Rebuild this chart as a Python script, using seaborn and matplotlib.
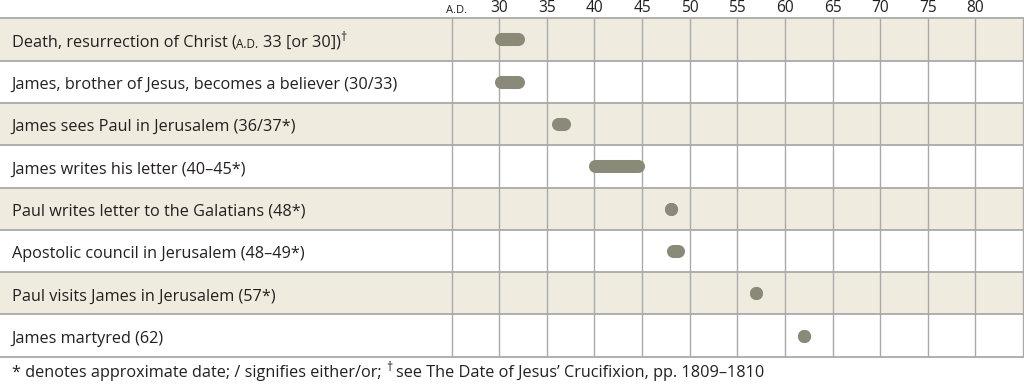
import re
import matplotlib
matplotlib.use("Agg")
import matplotlib.pyplot as plt
import seaborn as sns
import pandas as pd

# events, one row each (top to bottom)
events = [
    "Death, resurrection of Christ (A.D. 33 [or 30])†",
    "James, brother of Jesus, becomes a believer (30/33)",
    "James sees Paul in Jerusalem (36/37*)",
    "James writes his letter (40–45*)",
    "Paul writes letter to the Galatians (48*)",
    "Apostolic council in Jerusalem (48–49*)",
    "Paul visits James in Jerusalem (57*)",
    "James martyred (62)",
]
# marker extent as drawn on the timeline (years)
starts = [30.2, 30.2, 36.2, 40.1, 48.0, 48.2, 57.0, 62.0]
ends = [32.0, 32.0, 36.8, 44.6, 48.0, 48.8, 57.0, 62.0]

grid_years = [25, 30, 35, 40, 45, 50, 55, 60, 65, 70, 75, 80, 85]
tick_years = [30, 35, 40, 45, 50, 55, 60, 65, 70, 75, 80]
tick_labels = ["30", "35", "40", "45", "50", "55", "60", "65", "70", "75", "80"]
era_label = "A.D."
footnote = "* denotes approximate date; / signifies either/or; † see The Date of Jesus’ Crucifixion, pp. 1809–1810"

BEIGE = "#efecdf"
GRID = "#a9a9a9"
MARK = "#8b8a78"
INK = "#231f20"
FS = 11.7

sns.set_theme(style="white")
plt.rcParams["font.family"] = ["Open Sans", "DejaVu Sans"]


def rich_text(ax, x, y, s, size, transform):
    """Draw text with small-caps A.D. and superscript daggers, piece by piece."""
    parts = [p for p in re.split(r"(A\.D\.|†)", s) if p]
    first = prev = None
    gap = 0.0
    for p in parts:
        gap += (len(p) - len(p.lstrip(" "))) * 0.26 * size
        txt = p.strip(" ")
        fs, dy = size, 0.0
        if txt == "A.D.":
            fs = size * 0.72
        elif txt == "†":
            fs = size * 0.75
            dy = size * 0.42
        if first is None:
            first = ax.text(x, y, txt, fontsize=fs, color=INK, transform=transform,
                            va="baseline", ha="left")
            prev = first
        else:
            prev = ax.annotate(txt, xy=(1, 0), xycoords=(prev, first),
                               xytext=(gap, dy), textcoords="offset points",
                               fontsize=fs, color=INK, va="bottom", ha="left")
        gap = (len(p) - len(p.rstrip(" "))) * 0.26 * size
    return first


fig = plt.figure(figsize=(10.24, 3.86), dpi=100)
ax = fig.add_axes([0, 1 - 356.7 / 386, 1, (356.7 - 18.3) / 386])
ax.set_xlim(-22.4, 85.1)
ax.set_ylim(len(events), 0)

# striped rows
for i in range(len(events)):
    if i % 2 == 0:
        ax.axhspan(i, i + 1, color=BEIGE, lw=0, zorder=0)
for yr in grid_years:
    ax.axvline(yr, color=GRID, lw=1.0, zorder=1)
for i in range(len(events) + 1):
    ax.axhline(i, color=GRID, lw=1.3, zorder=1, clip_on=False)

# markers: capsule body + round ends
rows = [i + 0.5 for i in range(len(events))]
ax.hlines(rows, starts, ends, color=MARK, lw=9.4, zorder=3)
pts = pd.DataFrame({"year": starts + ends, "row": rows + rows})
sns.scatterplot(data=pts, x="year", y="row", color=MARK, s=88, linewidth=0,
                ax=ax, legend=False, zorder=4)

# labels
ytf = ax.get_yaxis_transform()
for i, ev in enumerate(events):
    rich_text(ax, 11.5 / 1024, i + 0.67, ev, FS, ytf)

# top axis
ax.xaxis.tick_top()
ax.set_xticks(tick_years)
ax.set_xticklabels(tick_labels, fontsize=11.2, color=INK)
ax.tick_params(axis="x", length=0, pad=1.5)
ax.set_yticks([])
ax.set_xlabel("")
ax.set_ylabel("")
ax.annotate(era_label, xy=(25.5, 1), xycoords=("data", "axes fraction"),
            xytext=(0, 3.8), textcoords="offset points", fontsize=8.0,
            color=INK, ha="center", va="baseline")
for s in ax.spines.values():
    s.set_visible(False)

rich_text(ax, 12 / 1024, 1 - 376.7 / 386, footnote, FS, fig.transFigure)

fig.savefig("out.png", dpi=100)
